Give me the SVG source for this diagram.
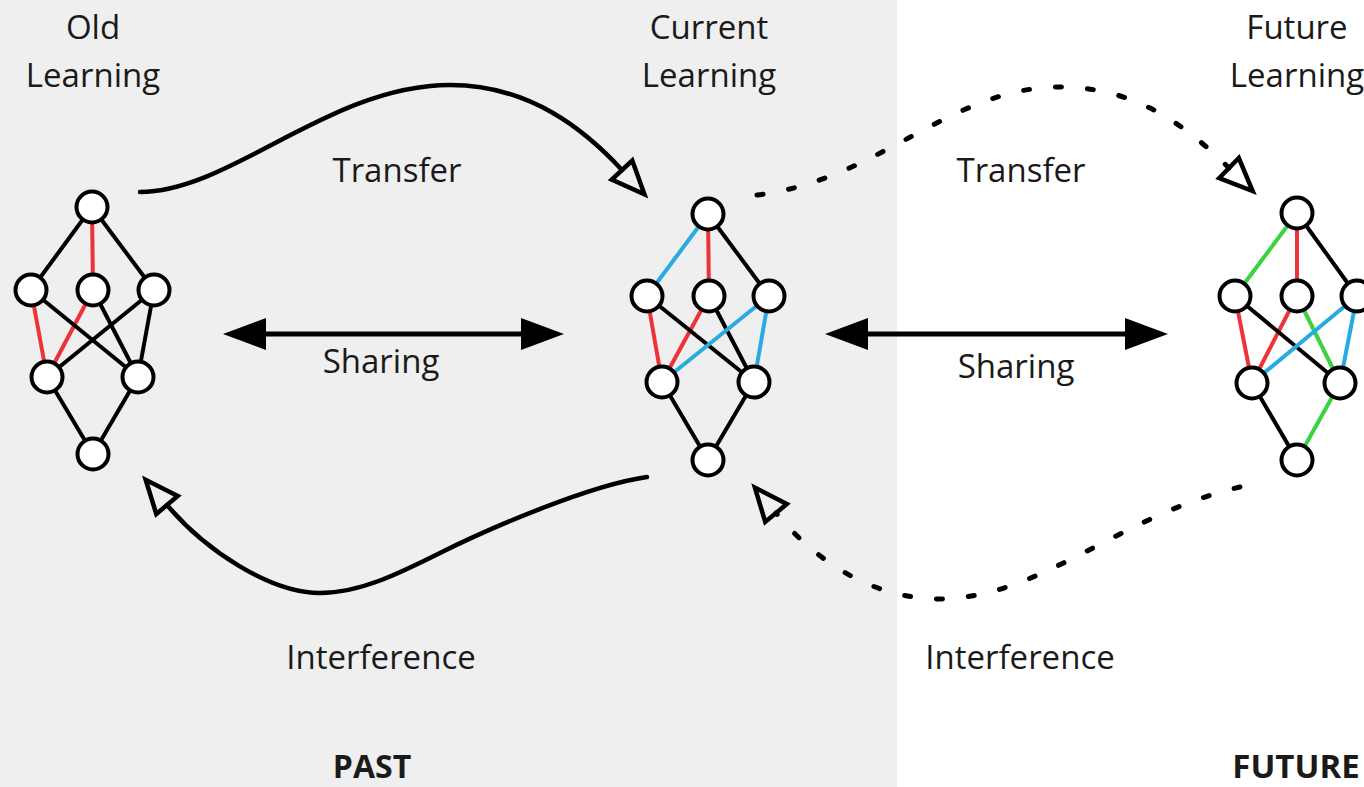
<svg xmlns="http://www.w3.org/2000/svg" width="1364" height="787" viewBox="0 0 1364 787">
<style>
  text { font-family: "Open Sans", "Noto Sans", "Liberation Sans", sans-serif; font-size: 33px; fill: #1a1a1a; text-anchor: middle; }
  .bold { font-weight: bold; font-size: 32px; }
  .e { stroke: #000; stroke-width: 4; fill: none; }
  .r { stroke: #ec3338; }
  .b { stroke: #29abe2; }
  .g { stroke: #3ad33f; }
  .n { fill: #fff; stroke: #000; stroke-width: 4; }
  .curve { fill: none; stroke: #000; stroke-width: 4.5; stroke-linecap: round; marker-end: url(#open); }
  .dash { stroke-width: 5; stroke-dasharray: 6 26; }
  .share { fill: none; stroke: #000; stroke-width: 5; marker-start: url(#solid); marker-end: url(#solid); }
</style>
<defs>
  <marker id="open" markerUnits="userSpaceOnUse" markerWidth="60" markerHeight="60" refX="0" refY="0" orient="auto" overflow="visible" viewBox="-30 -30 60 60">
    <path d="M0,-14 L33,0 L0,14 Z" fill="none" stroke="#000" stroke-width="4.5" stroke-dasharray="none" stroke-linejoin="miter"/>
  </marker>
  <marker id="solid" markerUnits="userSpaceOnUse" markerWidth="100" markerHeight="100" refX="0" refY="0" orient="auto-start-reverse" overflow="visible" viewBox="-50 -50 100 100">
    <path d="M-1,-16 L42,0 L-1,16 Z" fill="#000"/>
  </marker>
</defs>

<rect x="0" y="0" width="1364" height="787" fill="#fff"/>
<rect x="0" y="0" width="897" height="787" fill="#efefef"/>

<g id="labels">
  <text x="93" y="39">Old</text>
  <text x="93" y="87">Learning</text>
  <text x="709" y="39">Current</text>
  <text x="709" y="87">Learning</text>
  <text x="1297" y="39">Future</text>
  <text x="1297" y="87">Learning</text>
  <text x="397" y="182">Transfer</text>
  <text x="1021" y="182">Transfer</text>
  <text x="381" y="373">Sharing</text>
  <text x="1016" y="378">Sharing</text>
  <text x="381" y="669">Interference</text>
  <text x="1020" y="669">Interference</text>
  <text class="bold" x="372" y="778">PAST</text>
  <text class="bold" x="1296" y="778" style="font-size:33px">FUTURE</text>
</g>

<g id="connectors">
  <path class="curve" d="M140,192 C230,192 330,85 450,85 C530,85 585,130 622,170"/>
  <path class="curve dash" d="M757,195 C880,180 950,87 1060,87 C1140,87 1190,130 1229,168"/>
  <path class="curve" d="M647,477 C590,485 490,528 440,553 C400,573 360,593 320,593 C270,593 205,550 167,505"/>
  <path class="curve dash" d="M1240,487 C1120,515 1040,599 938,599 C870,598 815,560 776,513"/>
  <path class="share" d="M265,334 L522,334"/>
  <path class="share" d="M867,334 L1126,334"/>
</g>

<g id="old-learning">
  <line class="e" x1="92" y1="207" x2="31" y2="290"/>
  <line class="e r" x1="92" y1="207" x2="93" y2="290"/>
  <line class="e" x1="92" y1="207" x2="154" y2="290"/>
  <line class="e r" x1="31" y1="290" x2="47" y2="377"/>
  <line class="e r" x1="93" y1="290" x2="47" y2="377"/>
  <line class="e" x1="31" y1="290" x2="138" y2="377"/>
  <line class="e" x1="93" y1="290" x2="138" y2="377"/>
  <line class="e" x1="154" y1="290" x2="47" y2="377"/>
  <line class="e" x1="154" y1="290" x2="138" y2="377"/>
  <line class="e" x1="47" y1="377" x2="93" y2="454"/>
  <line class="e" x1="138" y1="377" x2="93" y2="454"/>
  <circle class="n" cx="92" cy="207" r="15.5"/>
  <circle class="n" cx="31" cy="290" r="15.5"/>
  <circle class="n" cx="93" cy="290" r="15.5"/>
  <circle class="n" cx="154" cy="290" r="15.5"/>
  <circle class="n" cx="47" cy="377" r="15.5"/>
  <circle class="n" cx="138" cy="377" r="15.5"/>
  <circle class="n" cx="93" cy="454" r="15.5"/>
</g>

<g id="current-learning">
  <line class="e b" x1="708" y1="214" x2="647" y2="296"/>
  <line class="e r" x1="708" y1="214" x2="709" y2="296"/>
  <line class="e" x1="708" y1="214" x2="769" y2="296"/>
  <line class="e r" x1="647" y1="296" x2="662" y2="382"/>
  <line class="e r" x1="709" y1="296" x2="662" y2="382"/>
  <line class="e" x1="647" y1="296" x2="754" y2="382"/>
  <line class="e" x1="709" y1="296" x2="754" y2="382"/>
  <line class="e b" x1="769" y1="296" x2="662" y2="382"/>
  <line class="e b" x1="769" y1="296" x2="754" y2="382"/>
  <line class="e" x1="662" y1="382" x2="708" y2="460"/>
  <line class="e" x1="754" y1="382" x2="708" y2="460"/>
  <circle class="n" cx="708" cy="214" r="15.5"/>
  <circle class="n" cx="647" cy="296" r="15.5"/>
  <circle class="n" cx="709" cy="296" r="15.5"/>
  <circle class="n" cx="769" cy="296" r="15.5"/>
  <circle class="n" cx="662" cy="382" r="15.5"/>
  <circle class="n" cx="754" cy="382" r="15.5"/>
  <circle class="n" cx="708" cy="460" r="15.5"/>
</g>

<g id="future-learning">
  <line class="e g" x1="1297" y1="213" x2="1235" y2="296"/>
  <line class="e r" x1="1297" y1="213" x2="1297" y2="296"/>
  <line class="e" x1="1297" y1="213" x2="1357" y2="296"/>
  <line class="e r" x1="1235" y1="296" x2="1252" y2="383"/>
  <line class="e r" x1="1297" y1="296" x2="1252" y2="383"/>
  <line class="e" x1="1235" y1="296" x2="1340" y2="383"/>
  <line class="e g" x1="1297" y1="296" x2="1340" y2="383"/>
  <line class="e b" x1="1357" y1="296" x2="1252" y2="383"/>
  <line class="e b" x1="1357" y1="296" x2="1340" y2="383"/>
  <line class="e" x1="1252" y1="383" x2="1297" y2="460"/>
  <line class="e g" x1="1340" y1="383" x2="1297" y2="460"/>
  <circle class="n" cx="1297" cy="213" r="15.5"/>
  <circle class="n" cx="1235" cy="296" r="15.5"/>
  <circle class="n" cx="1297" cy="296" r="15.5"/>
  <circle class="n" cx="1357" cy="296" r="15.5"/>
  <circle class="n" cx="1252" cy="383" r="15.5"/>
  <circle class="n" cx="1340" cy="383" r="15.5"/>
  <circle class="n" cx="1297" cy="460" r="15.5"/>
</g>
</svg>
